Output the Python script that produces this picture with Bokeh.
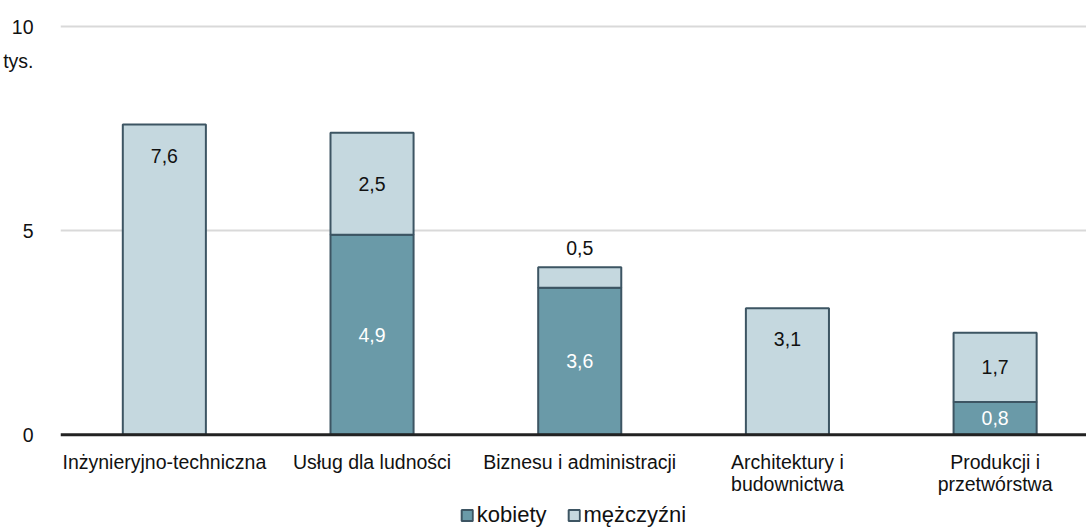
from bokeh.plotting import figure
from bokeh.models import ColumnDataSource, FixedTicker, Span, Legend, LegendItem
from bokeh.core.properties import value
from bokeh.embed import file_html
from bokeh.resources import INLINE
import numpy as np

categories = ["Inżynieryjno-techniczna", "Usług dla ludności", "Biznesu i administracji",
              "Architektury i\nbudownictwa", "Produkcji i\nprzetwórstwa"]
kobiety = [0.0, 4.9, 3.6, 0.0, 0.8]
mezczyzni = [7.6, 2.5, 0.5, 3.1, 1.7]
y_ticks = [0, 5, 10]
unit_label = "tys."

FONT = "Liberation Sans"
FS = "19.5px"
C_K = "#6a9aa8"
C_M = "#c5d8df"
C_LINE = "#3d5563"
TXT = "#111111"

x = [float(i) for i in range(len(categories))]
k = np.array(kobiety)
m = np.array(mezczyzni)
tot = k + m

p = figure(width=1086, height=530, x_range=(-0.5, 4.44), y_range=(-2.35, 10.2),
           output_backend="svg", toolbar_location=None, x_axis_location=None,
           min_border_left=59, min_border_right=0, min_border_top=18, min_border_bottom=0)
p.outline_line_color = None

src = ColumnDataSource(dict(x=x, k=list(k), tot=list(tot)))
rk = p.vbar(x="x", bottom=0, top="k", width=0.4, source=src,
            fill_color=C_K, line_color=C_LINE, line_width=2)
rm = p.vbar(x="x", bottom="k", top="tot", width=0.4, source=src,
            fill_color=C_M, line_color=C_LINE, line_width=2)

p.xgrid.visible = False
p.ygrid.ticker = FixedTicker(ticks=[t for t in y_ticks if t > 0])
p.ygrid.grid_line_color = "#d9d9d9"
p.ygrid.grid_line_width = 2
p.add_layout(Span(location=0, dimension="width", line_color="#222222", line_width=3))

# y axis: numbers plus the unit written under the top tick
PX = 40.8  # pixels per unit, used only to shift texts
unit_pos = y_ticks[-1] - 34 / PX
p.yaxis.ticker = FixedTicker(ticks=y_ticks + [unit_pos])
p.yaxis.major_label_overrides = {unit_pos: unit_label}
p.yaxis.axis_line_color = None
p.yaxis.major_tick_line_color = None
p.yaxis.minor_tick_line_color = None
p.yaxis.major_label_standoff = 21
p.yaxis.major_label_text_font = FONT
p.yaxis.major_label_text_font_size = FS
p.yaxis.major_label_text_color = TXT

# category labels under the baseline
p.text(x=x, y=[-16 / PX] * len(x), text=categories, text_align="center",
       text_baseline="top", text_color=TXT, text_font=value(FONT), text_font_size=FS,
       text_line_height=1.0)

def fmt(v):
    return f"{v:.1f}".replace(".", ",")

kx = [x[i] for i in range(len(x)) if k[i] > 0]
ky = [k[i] / 2 for i in range(len(x)) if k[i] > 0]
kt = [fmt(k[i]) for i in range(len(x)) if k[i] > 0]
p.text(x=kx, y=ky, text=kt, text_align="center", text_baseline="middle",
       text_color="white", text_font=value(FONT), text_font_size=FS)

mx, my, mt = [], [], []
for i in range(len(x)):
    mx.append(x[i]); mt.append(fmt(m[i]))
    if k[i] == 0:
        my.append(tot[i] - 31 / PX)
    elif m[i] < 1:
        my.append(tot[i] + 19 / PX)
    else:
        my.append(k[i] + m[i] / 2)
p.text(x=mx, y=my, text=mt, text_align="center", text_baseline="middle",
       text_color=TXT, text_font=value(FONT), text_font_size=FS)

legend = Legend(items=[LegendItem(label="kobiety", renderers=[rk]),
                       LegendItem(label="mężczyźni", renderers=[rm])],
                orientation="horizontal", location="bottom_center",
                glyph_width=14, glyph_height=14, label_standoff=3, spacing=20,
                label_text_font=FONT, label_text_font_size="22px", label_text_color=TXT,
                border_line_color=None, background_fill_alpha=0, padding=0, margin=2,
                label_height=20)
p.add_layout(legend)

open("out.html", "w").write(file_html(p, INLINE))
